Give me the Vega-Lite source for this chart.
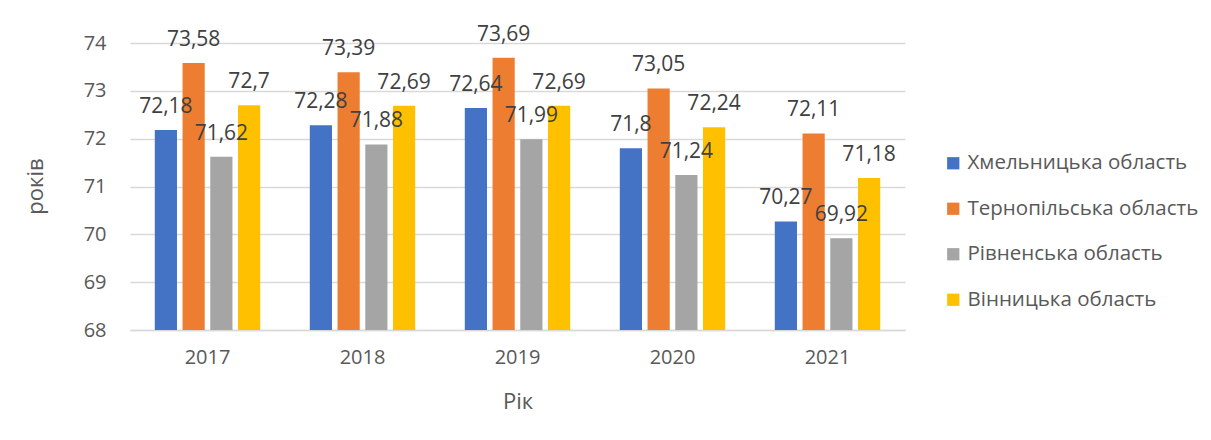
{
  "$schema": "https://vega.github.io/schema/vega-lite/v6.json",
  "width": 775,
  "height": 287,
  "autosize": {"type": "none"},
  "padding": {"left": 130, "top": 43, "right": 306, "bottom": 110},
  "background": "white",
  "config": {
    "locale": {"number": {"decimal": ",", "thousands": " ", "grouping": [3], "currency": ["", ""]}},
    "view": {"stroke": null},
    "font": "Open Sans",
    "text": {"font": "Open Sans"}
  },
  "data": {
    "values": [
      {"year": "2017", "region": "Хмельницька область", "value": 72.18},
      {"year": "2017", "region": "Тернопільська область", "value": 73.58},
      {"year": "2017", "region": "Рівненська область", "value": 71.62},
      {"year": "2017", "region": "Вінницька область", "value": 72.7},
      {"year": "2018", "region": "Хмельницька область", "value": 72.28},
      {"year": "2018", "region": "Тернопільська область", "value": 73.39},
      {"year": "2018", "region": "Рівненська область", "value": 71.88},
      {"year": "2018", "region": "Вінницька область", "value": 72.69},
      {"year": "2019", "region": "Хмельницька область", "value": 72.64},
      {"year": "2019", "region": "Тернопільська область", "value": 73.69},
      {"year": "2019", "region": "Рівненська область", "value": 71.99},
      {"year": "2019", "region": "Вінницька область", "value": 72.69},
      {"year": "2020", "region": "Хмельницька область", "value": 71.8},
      {"year": "2020", "region": "Тернопільська область", "value": 73.05},
      {"year": "2020", "region": "Рівненська область", "value": 71.24},
      {"year": "2020", "region": "Вінницька область", "value": 72.24},
      {"year": "2021", "region": "Хмельницька область", "value": 70.27},
      {"year": "2021", "region": "Тернопільська область", "value": 72.11},
      {"year": "2021", "region": "Рівненська область", "value": 69.92},
      {"year": "2021", "region": "Вінницька область", "value": 71.18}
    ]
  },
  "encoding": {
    "x": {
      "field": "year", "type": "nominal", "title": "Рік",
      "scale": {"paddingInner": 0.32, "paddingOuter": 0.16},
      "axis": {
        "labelAngle": 0, "labelFontSize": 20, "labelColor": "#595959", "labelPadding": 17,
        "ticks": false, "domainColor": "#d9d9d9", "domainWidth": 1.5,
        "titleFontSize": 22, "titleFontWeight": "normal", "titleColor": "#595959",
        "titleY": 78, "titleBaseline": "alphabetic"
      }
    },
    "xOffset": {
      "field": "region", "type": "nominal",
      "sort": ["Хмельницька область", "Тернопільська область", "Рівненська область", "Вінницька область"],
      "scale": {"paddingInner": 0.2, "paddingOuter": 0}
    },
    "y": {
      "field": "value", "type": "quantitative", "title": "років",
      "scale": {"domain": [68, 74], "zero": false, "nice": false},
      "axis": {
        "values": [68, 69, 70, 71, 72, 73, 74], "domain": false, "ticks": false,
        "labelFontSize": 20, "labelColor": "#595959", "labelPadding": 24,
        "gridColor": "#d9d9d9", "gridWidth": 1.5,
        "titleFontSize": 22, "titleFontWeight": "normal", "titleColor": "#595959",
        "titleX": -95, "titleY": 143, "titleAnchor": "middle", "titleBaseline": "middle"
      }
    },
    "color": {
      "field": "region", "type": "nominal",
      "sort": ["Хмельницька область", "Тернопільська область", "Рівненська область", "Вінницька область"],
      "scale": {
        "domain": ["Хмельницька область", "Тернопільська область", "Рівненська область", "Вінницька область"],
        "range": ["#4472C4", "#ED7D31", "#A5A5A5", "#FFC000"]
      },
      "legend": {
        "title": null, "orient": "none", "legendX": 813, "legendY": 110,
        "symbolType": "square", "symbolSize": 150, "symbolStrokeWidth": 0,
        "labelFontSize": 20.5, "labelColor": "#595959", "rowPadding": 24.5, "labelOffset": 4,
        "labelLimit": 300
      }
    }
  },
  "layer": [
    {"mark": {"type": "bar", "clip": true}},
    {
      "mark": {"type": "text", "baseline": "alphabetic", "dy": -17, "fontSize": 21, "color": "#404040"},
      "encoding": {
        "text": {"field": "value", "type": "quantitative", "format": ".4~r"},
        "color": {"value": "#404040"}
      }
    }
  ]
}
